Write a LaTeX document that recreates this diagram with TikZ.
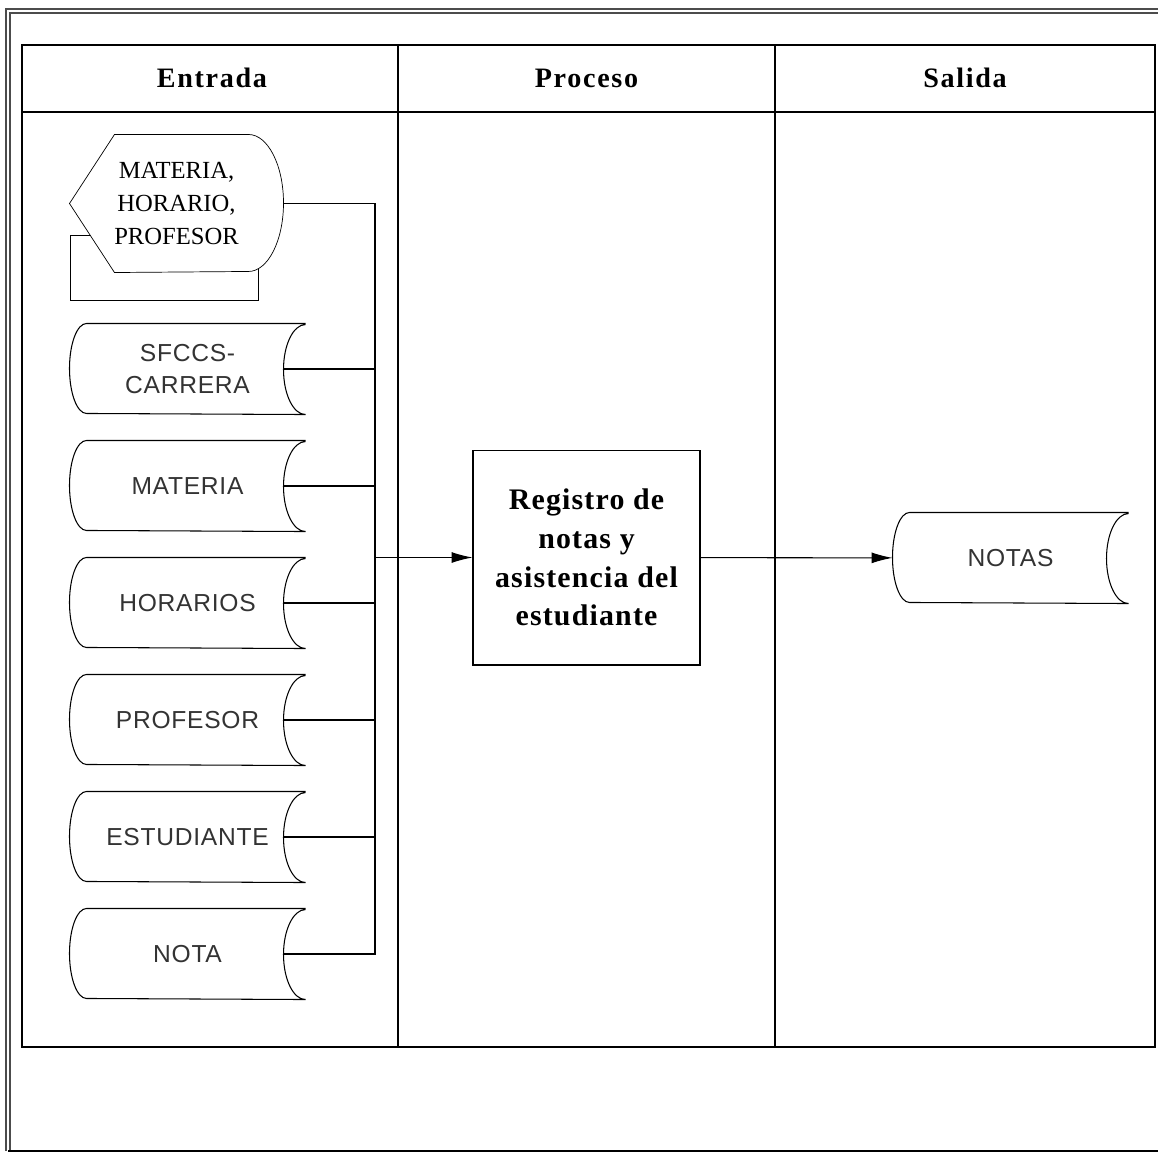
\documentclass[tikz,border=0pt]{standalone}
\usepackage{fontspec}
\setmainfont{Liberation Serif}
\setsansfont{Liberation Sans}
\usetikzlibrary{arrows.meta,positioning,calc,backgrounds}

\begin{document}
\begin{tikzpicture}[x=0.02cm,y=0.02cm,
        line width=0.6pt,
        hdr/.style={font=\fontsize{16}{19}\selectfont\bfseries\addfontfeature{LetterSpace=6}},
        store/.style={minimum width=4.7cm, minimum height=1.8cm, inner sep=0pt,
                      font=\fontsize{14}{18.7}\selectfont\sffamily\addfontfeature{LetterSpace=3},
                      text=black!80, align=center},
        disp/.style={minimum width=4.26cm, minimum height=2.74cm, inner sep=0pt,
                     font=\fontsize{14}{18.7}\selectfont, align=center},
        procbox/.style={draw, minimum width=4.54cm, minimum height=4.3cm, inner sep=0pt,
                        font=\fontsize{17}{22}\selectfont\bfseries\addfontfeature{LetterSpace=4},
                        align=center},
        arr/.style={-{Latex[length=0.42cm,width=0.22cm]}}
      ]
        \useasboundingbox (0,0) rectangle (1157,-1157);
        % Outer frame
        \draw[double, double distance=1.5pt, line width=0.7pt, draw=black!70] (8,-1151) -- (8,-11) -- (1170,-11);
        \draw (8,-1151) -- (1170,-1151);
        % Table
        \draw[line width=0.9pt] (22,-45) rectangle (1155,-1047);
        \draw[line width=0.9pt] (22,-112) -- (1155,-112);
        \draw (398,-45) -- (398,-1047);
        \draw (775,-45) -- (775,-1047);
        % Headers
        \node[hdr] (hin) at (212,-78) {Entrada};
        \node[hdr] (hproc) at (586.5,-78) {Proceso};
        \node[hdr] (hout) at (965,-78) {Salida};
        % Inputs
        \node[disp] (mhp) at (176.5,-203.5) {MATERIA,\\HORARIO,\\PROFESOR};
        \node[store] (sfccs) at (187.5,-369) {SFCCS-\\CARRERA};
        \node[store] (materia) at (187.5,-486) {MATERIA};
        \node[store] (horarios) at (187.5,-603) {HORARIOS};
        \node[store] (profesor) at (187.5,-720) {PROFESOR};
        \node[store] (estudiante) at (187.5,-837) {ESTUDIANTE};
        \node[store] (nota) at (187.5,-954) {NOTA};
        % Process
        \node[procbox] (proc) at (586.5,-557.5) {Registro de\\notas y\\asistencia del\\estudiante};
        % Output
        \node[store] (notas) at (1010.5,-558) {NOTAS};
        % Display shape with its sheet behind
        \begin{scope}[on background layer]
          \draw (70,-235) rectangle (258,-300);
          \draw[fill=white] (mhp.west) -- ([xshift=0.9cm]mhp.north west)
            -- ([xshift=-0.7cm]mhp.north east)
            arc[start angle=90, end angle=-90, x radius=0.7cm, y radius=1.37cm]
            -- ([xshift=0.9cm]mhp.south west) -- cycle;
        \end{scope}
        % Stored data outlines
        \foreach \n in {sfccs,materia,horarios,profesor,estudiante,nota,notas}
          \draw (\n.north east) -- ([xshift=0.34cm]\n.north west)
            arc[start angle=90, end angle=270, x radius=0.34cm, y radius=0.9cm]
            -- (\n.south east)
            arc[start angle=270, end angle=90, x radius=0.44cm, y radius=0.9cm];
        % Collector line
        \coordinate (busend) at (375,-954);
        \draw (mhp.east) -| (busend) -- ([xshift=-0.44cm]nota.east);
        \foreach \n in {sfccs,materia,horarios,profesor,estudiante}
          \draw ([xshift=-0.44cm]\n.east) -- (\n.east -| busend);
        % Arrows
        \draw[arr] (proc.west -| busend) -- (proc);
        \draw[arr] (proc) -- (notas);
      \end{tikzpicture}
\end{document}
